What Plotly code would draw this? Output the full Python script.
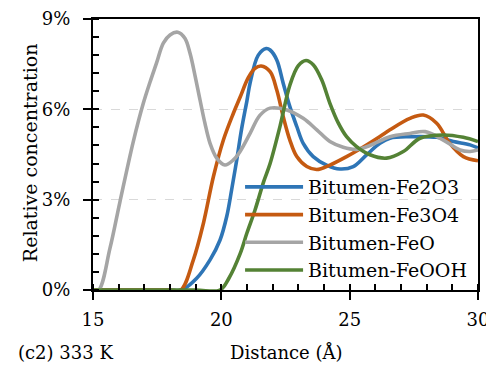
import plotly.graph_objects as go

# Distance (Å) and relative concentration (%) for each system
fe2o3_x = [15, 17.0, 18.0, 18.45, 19.04, 19.56, 19.95, 20.21, 20.4, 20.6, 20.79, 21.0, 21.12, 21.44, 21.75, 21.9, 22.16, 22.41, 22.67, 22.94, 23.19, 23.58, 24.1, 24.62, 25.14, 25.66, 26.18, 26.57, 27.35, 28.39, 29.04, 29.69, 30]
fe2o3_y = [0, 0, 0, 0, 0.39, 1.0, 1.66, 2.44, 3.32, 4.32, 5.35, 6.3, 6.87, 7.8, 8.02, 7.97, 7.64, 6.87, 6.09, 5.43, 4.87, 4.43, 4.15, 4.02, 4.1, 4.49, 4.87, 5.04, 5.09, 5.07, 4.93, 4.82, 4.72]

fe3o4_x = [15, 17.0, 18.0, 18.42, 18.91, 19.3, 19.69, 20.08, 20.47, 20.73, 21.05, 21.3, 21.55, 21.9, 22.16, 22.41, 22.67, 22.94, 23.33, 23.72, 24.23, 24.88, 25.53, 26.18, 26.57, 27.35, 27.87, 28.39, 28.9, 29.43, 30]
fe3o4_y = [0, 0, 0, 0, 1.0, 2.21, 3.76, 4.98, 5.87, 6.4, 7.05, 7.35, 7.44, 7.25, 6.64, 5.76, 4.98, 4.43, 4.1, 4.0, 4.15, 4.43, 4.75, 5.1, 5.32, 5.7, 5.81, 5.54, 4.87, 4.43, 4.29]

feo_x = [15, 15.22, 15.66, 16.05, 16.57, 16.96, 17.22, 17.48, 17.74, 18.0, 18.3, 18.58, 18.78, 18.97, 19.17, 19.36, 19.56, 19.82, 20.14, 20.47, 20.73, 21.12, 21.5, 21.9, 22.55, 23.19, 23.72, 24.23, 24.75, 25.27, 25.79, 26.57, 27.35, 27.94, 28.65, 29.3, 29.69, 30]
feo_y = [0, 0, 1.38, 2.93, 4.93, 6.2, 6.9, 7.55, 8.2, 8.47, 8.56, 8.36, 7.86, 7.14, 6.31, 5.54, 4.87, 4.38, 4.15, 4.32, 4.6, 5.2, 5.8, 6.04, 5.98, 5.7, 5.32, 4.93, 4.74, 4.67, 4.8, 5.09, 5.2, 5.26, 4.98, 4.65, 4.6, 4.65]

feooh_x = [15, 17.0, 19.0, 19.95, 20.3, 20.73, 21.0, 21.31, 21.65, 21.9, 22.29, 22.67, 23.0, 23.3, 23.58, 23.91, 24.23, 24.56, 24.88, 25.27, 25.79, 26.44, 27.09, 27.74, 28.65, 29.43, 30]
feooh_y = [0, 0, 0, 0, 0.4, 1.2, 1.9, 2.65, 3.6, 4.2, 5.45, 6.8, 7.45, 7.62, 7.48, 6.98, 6.2, 5.54, 5.09, 4.76, 4.49, 4.38, 4.6, 5.04, 5.15, 5.07, 4.93]

series_names = ["Bitumen-Fe2O3", "Bitumen-Fe3O4", "Bitumen-FeO", "Bitumen-FeOOH"]
series_colors = ["#2E75B6", "#C55A11", "#A5A5A5", "#548235"]

x_title = "Distance (Å)"
y_title = "Relative concentration"
panel_label = "(c2) 333 K"

FONT = "DejaVu Serif"

fig = go.Figure()
data = [(fe2o3_x, fe2o3_y), (fe3o4_x, fe3o4_y), (feo_x, feo_y), (feooh_x, feooh_y)]
for (xs, ys), name, color in zip(data, series_names, series_colors):
    fig.add_trace(go.Scatter(
        x=xs, y=ys, name=name, mode="lines",
        line=dict(color=color, width=3.6, shape="spline", smoothing=1.0),
    ))

# The page body has an 8px margin, so the figure is sized to fit the 494x367 window.
fig.update_layout(
    width=486, height=359,
    margin=dict(l=85, r=16, t=11, b=77),
    paper_bgcolor="white", plot_bgcolor="white",
    font=dict(family=FONT, size=18, color="black"),
    showlegend=True,
    legend=dict(
        x=0.382, y=0.45, xanchor="left", yanchor="top",
        bgcolor="rgba(0,0,0,0)", borderwidth=0,
        font=dict(family=FONT, size=19, color="black"),
        itemwidth=58, tracegroupgap=0,
    ),
    annotations=[
        dict(text=panel_label, xref="paper", yref="paper", x=-0.2, y=-0.2288,
             xanchor="left", yanchor="middle", showarrow=False,
             font=dict(family=FONT, size=18, color="black")),
        dict(text=x_title, xref="paper", yref="paper", x=0.5, y=-0.2288,
             xanchor="center", yanchor="middle", showarrow=False,
             font=dict(family=FONT, size=18, color="black")),
        dict(text=y_title, xref="paper", yref="paper", x=-0.1636, y=0.505,
             xanchor="center", yanchor="middle", showarrow=False, textangle=-90,
             font=dict(family=FONT, size=19, color="black")),
    ],
    xaxis2=dict(overlaying="x", anchor="y", range=[15, 30], dtick=5, tick0=15,
                ticks="inside", ticklen=6, tickwidth=2, tickcolor="black",
                showticklabels=False, showgrid=False, zeroline=False, showline=False),
    yaxis2=dict(overlaying="y", anchor="x", side="left", range=[0, 9], dtick=3, tick0=0,
                ticks="inside", ticklen=6, tickwidth=2, tickcolor="black",
                showticklabels=False, showgrid=False, zeroline=False, showline=False),
)

fig.layout.xaxis.update(
    range=[15, 30], dtick=5, tick0=15, automargin=False,
    showline=True, linecolor="black", linewidth=2, mirror=True,
    ticks="outside", ticklen=8, tickwidth=2, tickcolor="black",
    minor=dict(dtick=1, ticks="inside", ticklen=6, tickwidth=1.5, tickcolor="black"),
    showgrid=False, zeroline=False,
    ticklabelstandoff=4,
    tickfont=dict(family=FONT, size=18),
)
fig.layout.yaxis.update(
    range=[0, 9], dtick=3, tick0=0, ticksuffix="%", automargin=False,
    showline=True, linecolor="black", linewidth=2, mirror=True,
    ticks="outside", ticklen=8, tickwidth=2, tickcolor="black",
    minor=dict(dtick=0.6, ticks="inside", ticklen=6, tickwidth=1.5, tickcolor="black"),
    showgrid=True, gridcolor="#D9D9D9", gridwidth=1.3, griddash="dash",
    zeroline=False,
    ticklabelstandoff=9,
    tickfont=dict(family=FONT, size=18),
)

fig.write_html("out.html")
